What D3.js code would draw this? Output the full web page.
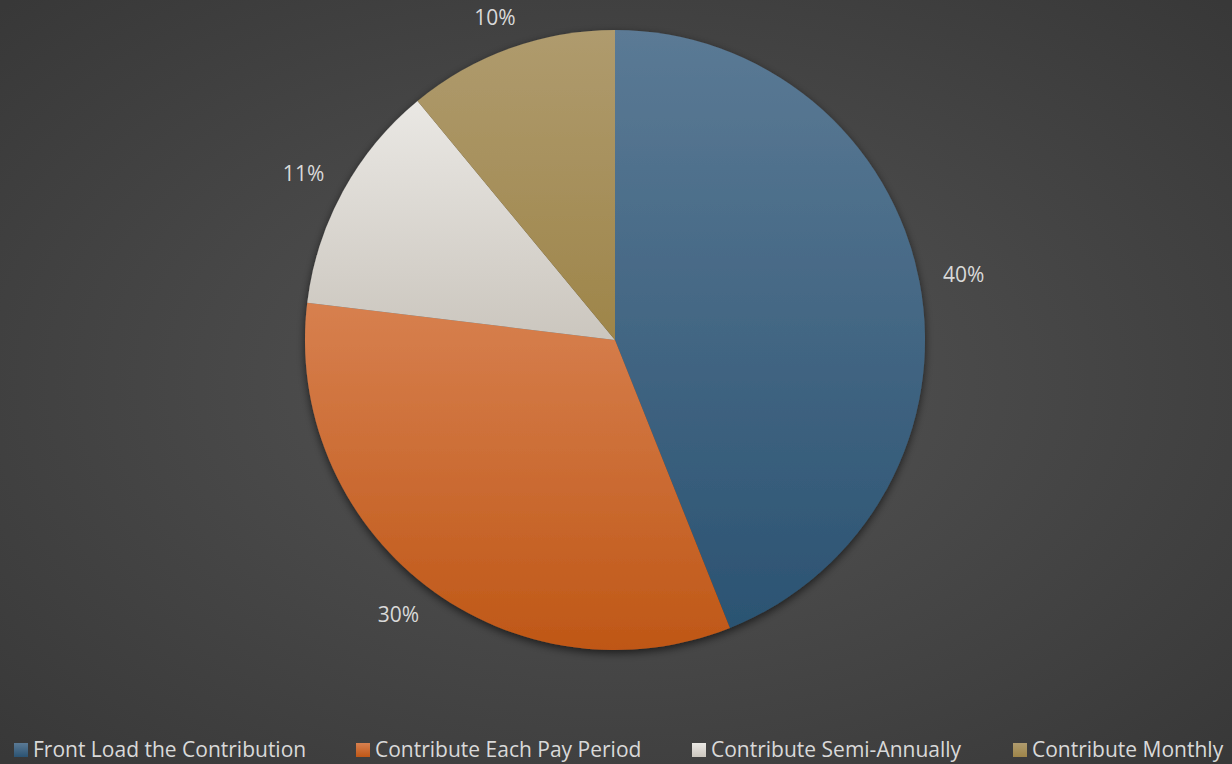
<!DOCTYPE html>
<html>
<head>
<meta charset="utf-8">
<script src="https://cdn.jsdelivr.net/npm/d3@7"></script>
<style>
  html, body { margin: 0; padding: 0; background: #404040; }
  svg { display: block; }
</style>
</head>
<body>
<div id="grafico-container"></div>
<script>
// Dados do gráfico
const categorias = ["Front Load the Contribution", "Contribute Each Pay Period", "Contribute Semi-Annually", "Contribute Monthly"];
const valores = [40, 30, 11, 10];
const rotulos = ["40%", "30%", "11%", "10%"];
const coresTopo = ["#5b7a95", "#d7804f", "#eae8e4", "#af9b6e"];
const coresBase = ["#2b5372", "#bf5716", "#cbc6be", "#9e8549"];

const width = 1232;
const height = 764;
const cx = 615, cy = 340, raio = 310;

const svg = d3.select("#grafico-container").append("svg")
    .attr("width", width)
    .attr("height", height)
    .attr("viewBox", [0, 0, width, height])
    .style("font-family", "'Open Sans', 'Liberation Sans', sans-serif");

const defs = svg.append("defs");

// Fundo com gradiente radial
const bg = defs.append("radialGradient")
    .attr("id", "fundo")
    .attr("cx", "50%").attr("cy", "50%").attr("r", "70%");
bg.append("stop").attr("offset", "0%").attr("stop-color", "#555555");
bg.append("stop").attr("offset", "100%").attr("stop-color", "#383838");
svg.append("rect").attr("width", width).attr("height", height).attr("fill", "url(#fundo)");

// Gradientes das fatias
categorias.forEach((c, i) => {
    const lg = defs.append("linearGradient")
        .attr("id", "grad" + i)
        .attr("x1", 0).attr("y1", 0).attr("x2", 0).attr("y2", 1);
    lg.append("stop").attr("offset", "0%").attr("stop-color", coresTopo[i]);
    lg.append("stop").attr("offset", "100%").attr("stop-color", coresBase[i]);
});

// Sombra
const filtro = defs.append("filter").attr("id", "sombra")
    .attr("x", "-10%").attr("y", "-10%").attr("width", "120%").attr("height", "120%");
filtro.append("feDropShadow")
    .attr("dx", 0).attr("dy", 3).attr("stdDeviation", 4)
    .attr("flood-color", "#000").attr("flood-opacity", 0.6);

const pie = d3.pie().sort(null).value(d => d)(valores);
const arc = d3.arc().innerRadius(0).outerRadius(raio);

const g = svg.append("g").attr("transform", `translate(${cx},${cy})`);

g.append("g")
    .attr("filter", "url(#sombra)")
    .selectAll("path")
    .data(pie)
    .join("path")
    .attr("d", arc)
    .attr("fill", (d, i) => `url(#grad${i})`);

// Rótulos fora da fatia (posição tipo "extremidade externa")
function posRotulo(d) {
    const a = (d.startAngle + d.endAngle) / 2;
    const s = Math.sin(a), c = -Math.cos(a);
    const r = raio + 25;
    let x = r * s + 20 * s;
    let y = r * c + 12 * c;
    y = Math.max(y, -cy + 18);
    return [x, y];
}

g.append("g")
    .selectAll("text")
    .data(pie)
    .join("text")
    .attr("transform", d => `translate(${posRotulo(d)})`)
    .attr("text-anchor", "middle")
    .attr("dy", "0.35em")
    .attr("fill", "#d9d9d9")
    .style("font-size", "21px")
    .text((d, i) => rotulos[i]);

// Legenda
const legendaX = [14, 356, 692, 1013];
const legenda = svg.append("g")
    .selectAll("g")
    .data(categorias)
    .join("g")
    .attr("transform", (d, i) => `translate(${legendaX[i]}, 750)`);

legenda.append("rect")
    .attr("x", 0).attr("y", -7)
    .attr("width", 14).attr("height", 14)
    .attr("fill", (d, i) => `url(#grad${i})`);

legenda.append("text")
    .attr("x", 19)
    .attr("dy", "0.35em")
    .attr("fill", "#d9d9d9")
    .style("font-size", "21px")
    .text(d => d);
</script>
</body>
</html>
